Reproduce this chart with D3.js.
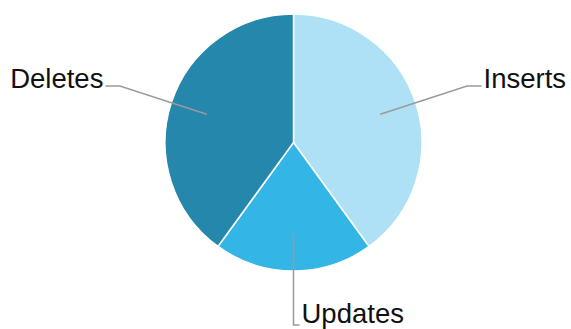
<!DOCTYPE html>
<html>
<head>
<meta charset="utf-8">
<script src="https://cdn.jsdelivr.net/npm/d3@7"></script>
<style>
  html, body { margin: 0; padding: 0; background: #fff; }
  svg { display: block; }
</style>
</head>
<body>
<svg id="chart" width="571" height="329"></svg>
<script>
// Operation counts by type
const categories = ["Inserts", "Updates", "Deletes"];
const values = [2, 1, 2];
const colors = ["#AEE1F5", "#33B5E5", "#2587AC"];

const width = 571, height = 329;
const cx = 293.5, cy = 142.5, radius = 128.5;

const svg = d3.select("#chart");
const g = svg.append("g").attr("transform", `translate(${cx},${cy})`);

const data = categories.map((c, i) => ({ label: c, value: values[i], color: colors[i] }));

const pie = d3.pie().sort(null).value(d => d.value);
const arcs = pie(data);

const arc = d3.arc().innerRadius(0).outerRadius(radius);
const innerArc = d3.arc().innerRadius(radius * 0.71).outerRadius(radius * 0.71);
const outerArc = d3.arc().innerRadius(radius * 1.42).outerRadius(radius * 1.42);

g.selectAll("path.slice")
  .data(arcs)
  .join("path")
  .attr("class", "slice")
  .attr("d", arc)
  .attr("fill", d => d.data.color)
  .attr("stroke", "#fff")
  .attr("stroke-width", 1.5);

const mid = d => (d.startAngle + d.endAngle) / 2;

// Leader line: slice interior -> outside the pie -> short horizontal run
const lineGeom = d => {
  const a = mid(d);
  const s = Math.abs(Math.sin(a));
  const p0 = innerArc.centroid(d);
  const p1 = outerArc.centroid(d);
  const dir = Math.sin(a) >= -1e-9 ? 1 : -1;
  const len = 6 + 9 * s;
  const p2 = [p1[0] + dir * len, p1[1]];
  const dy = 2.5 * s - 2 * (1 - s);
  return { p0, p1, p2, dir, dy };
};

g.selectAll("polyline.leader")
  .data(arcs)
  .join("polyline")
  .attr("class", "leader")
  .attr("points", d => { const l = lineGeom(d); return [l.p0, l.p1, l.p2].map(p => p.join(",")).join(" "); })
  .attr("fill", "none")
  .attr("stroke", "#9a9a9a")
  .attr("stroke-width", 1.5);

g.selectAll("text.label")
  .data(arcs)
  .join("text")
  .attr("class", "label")
  .attr("x", d => { const l = lineGeom(d); return l.p2[0] + l.dir * 2; })
  .attr("y", d => { const l = lineGeom(d); return l.p2[1] + l.dy; })
  .attr("text-anchor", d => lineGeom(d).dir > 0 ? "start" : "end")
  .attr("font-family", "Liberation Sans, Arial, sans-serif")
  .attr("font-size", 27.5)
  .attr("fill", "#111")
  .text(d => d.data.label);
</script>
</body>
</html>
